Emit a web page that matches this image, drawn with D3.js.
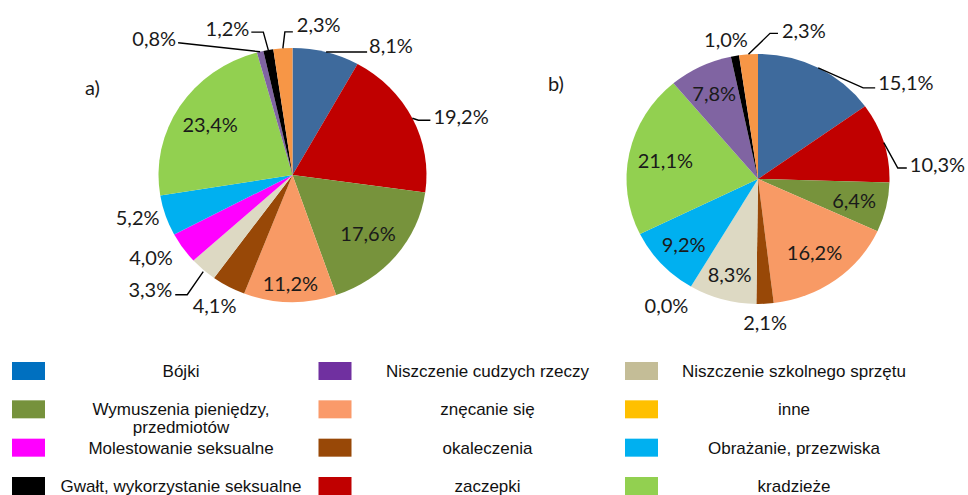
<!DOCTYPE html>
<html>
<head>
<meta charset="utf-8">
<script src="https://cdn.jsdelivr.net/npm/d3@7"></script>
<style>
  body { margin: 0; background: #fff; }
  svg { display: block; }
</style>
</head>
<body>
<svg id="chart" width="968" height="495"></svg>
<script>
// Slices, clockwise from 12 o'clock
const categories = ["Bójki", "zaczepki", "Wymuszenia pieniędzy, przedmiotów", "znęcanie się", "okaleczenia",
    "Niszczenie szkolnego sprzętu", "Molestowanie seksualne", "Obrażanie, przezwiska", "kradzieże",
    "Niszczenie cudzych rzeczy", "Gwałt, wykorzystanie seksualne", "inne"]
const valuesA = [8.1, 19.2, 17.6, 11.2, 4.1, 3.3, 4.0, 5.2, 23.4, 0.8, 1.2, 2.3]
const valuesB = [15.1, 10.3, 6.4, 16.2, 2.1, 8.3, 0.0, 9.2, 21.1, 7.8, 1.0, 2.3]
const pieColours = ["#3e6a9c", "#c00000", "#77933c", "#f89a65", "#984807", "#ddd9c3",
    "#ff00ff", "#00b0f0", "#92d050", "#8064a2", "#000000", "#f79646"]

// Legend, row by row (3 columns)
const legendLabels = ["Bójki", "Niszczenie cudzych rzeczy", "Niszczenie szkolnego sprzętu",
    "Wymuszenia pieniędzy,\nprzedmiotów", "znęcanie się", "inne",
    "Molestowanie seksualne", "okaleczenia", "Obrażanie, przezwiska",
    "Gwałt, wykorzystanie seksualne", "zaczepki", "kradzieże"]
const legendColours = ["#0070c0", "#7030a0", "#c4bd97", "#76923c", "#fa9a6a", "#ffc000",
    "#ff00ff", "#984807", "#00b0f0", "#000000", "#c00000", "#92d050"]

// Where each label sits: inside at a radius fraction, or outside offset from the rim
const labelsA = [
    {out: [43, -6], anchor: "start", leader: [[0, 0], [41, 0]]},
    {out: [21, -1], anchor: "start", leader: [[0, 0], [6, 2], [18, 2]]},
    {r: 0.73},
    {r: 0.86},
    {out: [-14, 19], anchor: "middle"},
    {out: [-31, 20], anchor: "end", leader: [[0, 2], [-16, 25], [-28, 25]]},
    {out: [-10, 10], anchor: "end"},
    {out: [-6, 2.5], anchor: "end"},
    {r: 0.73},
    {out: [-84, -13], anchor: "end", leader: [[0, 0], [-82, -9]]},
    {out: [-19, -21.5], anchor: "end", leader: [[0, 0], [-5, -18], [-17, -18]]},
    {out: [14, -24], anchor: "start", leader: [[0, 0], [2, -16.5], [10, -16.5]]}
]
const labelsB = [
    {out: [60, 14.5], anchor: "start", leader: [[0, 0], [45, 20], [57, 20]]},
    {out: [26, 22.5], anchor: "start", leader: [[0, 0], [14, 25.5], [23, 25.5]]},
    {r: 0.75},
    {r: 0.73},
    {out: [0, 18.5], anchor: "middle"},
    {r: 0.8},
    {out: [-24.5, 19], anchor: "middle"},
    {r: 0.77},
    {r: 0.72},
    {r: 0.76},
    {out: [-9, -16], anchor: "middle"},
    {out: [33.5, -24], anchor: "start", leader: [[0, 0], [21.5, -21], [29.5, -21]]}
]

const svg = d3.select("#chart")
const labelFont = "Lato, 'Open Sans', sans-serif"
const fmt = v => d3.format(".1f")(v).replace(".", ",") + "%"

drawPie(svg, valuesA, labelsA, {cx: 292.5, cy: 175, rx: 134, ry: 127, title: "a)", tx: 85, ty: 95})
drawPie(svg, valuesB, labelsB, {cx: 758, cy: 179, rx: 131.5, ry: 125, title: "b)", tx: 548, ty: 91})
drawLegend(svg)

function drawPie(svg, values, labels, p){
    const pie = d3.pie().sort(null).value(d => d)
    const arcs = pie(values)
    const arc = d3.arc().innerRadius(0).outerRadius(p.rx)

    // pies are slightly squashed in the original, so scale the y axis
    svg.append("g")
        .attr("transform", `translate(${p.cx},${p.cy}) scale(1,${p.ry / p.rx})`)
        .selectAll("path")
        .data(arcs)
        .join("path")
        .attr("d", arc)
        .attr("fill", (d, i) => pieColours[i])

    const g = svg.append("g")
    arcs.forEach((d, i) => {
        const a = (d.startAngle + d.endAngle) / 2
        const lab = labels[i]
        let x, y, anchor = "middle"
        if(lab.r){
            x = p.cx + p.rx * lab.r * Math.sin(a)
            y = p.cy - p.ry * lab.r * Math.cos(a)
        } else {
            const ex = p.cx + p.rx * Math.sin(a)
            const ey = p.cy - p.ry * Math.cos(a)
            x = ex + lab.out[0]
            y = ey + lab.out[1]
            anchor = lab.anchor
            if(lab.leader){
                g.append("path")
                    .attr("d", d3.line()(lab.leader.map(q => [ex + q[0], ey + q[1]])))
                    .attr("fill", "none")
                    .attr("stroke", "#000")
                    .attr("stroke-width", 1.4)
            }
        }
        g.append("text")
            .attr("x", x)
            .attr("y", y)
            .attr("dy", "0.36em")
            .attr("text-anchor", anchor)
            .attr("font-family", labelFont)
            .attr("font-size", 20)
            .attr("fill", "#1a1a1a")
            .text(fmt(values[i]))
    })

    svg.append("text")
        .attr("x", p.tx)
        .attr("y", p.ty)
        .attr("font-family", labelFont)
        .attr("font-size", 20)
        .attr("fill", "#1a1a1a")
        .text(p.title)
}

function drawLegend(svg){
    const colX = d3.scaleLinear().domain([0, 2]).range([12, 625])
    const rowY = d3.scaleLinear().domain([0, 3]).range([362, 477])
    const items = svg.append("g")
        .selectAll("g")
        .data(legendLabels)
        .join("g")
        .attr("transform", (d, i) => `translate(${colX(i % 3)},${rowY(Math.floor(i / 3))})`)

    items.append("rect")
        .attr("width", 33)
        .attr("height", 18)
        .attr("fill", (d, i) => legendColours[i])

    items.append("text")
        .attr("x", 169)
        .attr("y", 15)
        .attr("text-anchor", "middle")
        .attr("font-family", "'Liberation Sans', Arial, sans-serif")
        .attr("font-size", 17)
        .attr("fill", "#111")
        .each(function(d){
            d.split("\n").forEach((line, k) => {
                d3.select(this).append("tspan")
                    .attr("x", 169)
                    .attr("dy", k ? 17.5 : 0)
                    .text(line)
            })
        })
}
</script>
</body>
</html>
